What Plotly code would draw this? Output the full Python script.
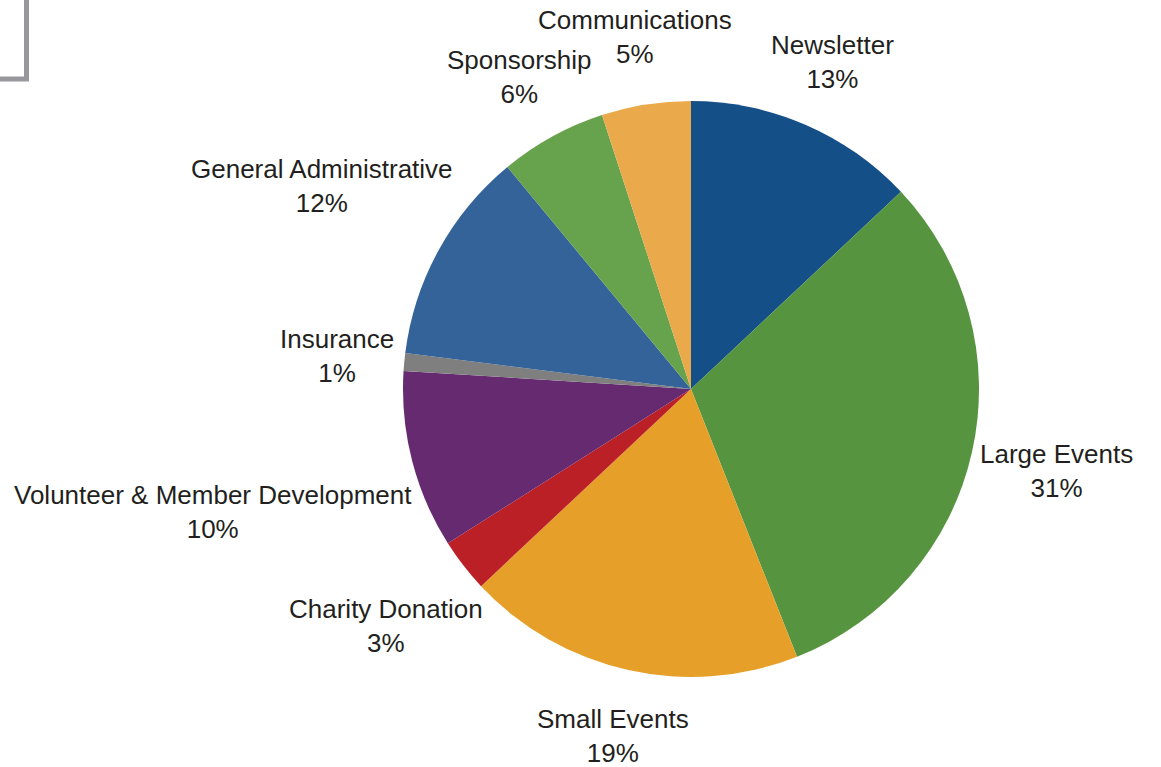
import math
import plotly.graph_objects as go

categories = ["Newsletter", "Large Events", "Small Events", "Charity Donation",
              "Volunteer & Member Development", "Insurance", "General Administrative",
              "Sponsorship", "Communications"]
values = [13, 31, 19, 3, 10, 1, 12, 6, 5]
colors = ["#154f87", "#56943f", "#e6a02a", "#bb2027", "#662a70", "#7f7f7f",
          "#336399", "#67a24d", "#eaa94b"]

W, H = 1161, 767
cx, cy, R = 691, 389, 288
FS = 26
FONT = "Liberation Sans, Arial, Helvetica, sans-serif"

# approximate Arial advance widths (per 1000 em) for label placement
AW = {" ": 278, "&": 667, "%": 889, "A": 667, "C": 722, "D": 722, "E": 667, "G": 778,
      "I": 278, "L": 556, "M": 833, "N": 722, "S": 667, "V": 667, "a": 556, "b": 556,
      "c": 500, "d": 556, "e": 556, "g": 556, "h": 556, "i": 222, "l": 222, "m": 833,
      "n": 556, "o": 556, "p": 556, "r": 333, "s": 500, "t": 278, "u": 556, "v": 500,
      "w": 722, "y": 500}


def text_w(s):
    return sum(AW.get(ch, 556) for ch in s) * FS / 1000.0


fig = go.Figure(go.Pie(
    labels=categories,
    values=values,
    sort=False,
    direction="clockwise",
    rotation=0,
    marker=dict(colors=colors, line=dict(width=0)),
    textinfo="none",
    showlegend=False,
    automargin=False,
    hoverinfo="label+percent",
    domain=dict(x=[(cx - R) / W, (cx + R) / W], y=[(H - cy - R) / H, (H - cy + R) / H]),
))

annotations = []
total = sum(values)
cum = 0.0
for lab, v in zip(categories, values):
    mid = (cum + v / 2) / total * 2 * math.pi
    cum += v
    ux, uy = math.sin(mid), -math.cos(mid)
    hw = max(text_w(lab), text_w(f"{v}%")) / 2
    hh = 28
    d = 1.236 * R
    # push outward until label box clears the pie by a small gap
    while True:
        px, py = cx + ux * d, cy + uy * d
        nx = min(max(cx, px - hw), px + hw)
        ny = min(max(cy, py - hh), py + hh)
        if math.hypot(nx - cx, ny - cy) >= R + 6:
            break
        d += 1
    annotations.append(dict(
        x=px / W, y=1 - py / H, xref="paper", yref="paper",
        text=f"{lab}<br>{v}%", showarrow=False, xanchor="center", yanchor="middle",
        font=dict(family=FONT, size=FS, color="#231f20"), align="center"))

fig.update_layout(
    width=W, height=H,
    margin=dict(l=0, r=0, t=0, b=0),
    paper_bgcolor="white",
    plot_bgcolor="white",
    annotations=annotations,
    shapes=[dict(type="rect", xref="paper", yref="paper",
                 x0=-10 / W, x1=26.5 / W, y0=1 - 79 / H, y1=1 + 10 / H,
                 line=dict(color="#98989c", width=5), fillcolor="rgba(0,0,0,0)")],
)

fig.write_html("out.html")
